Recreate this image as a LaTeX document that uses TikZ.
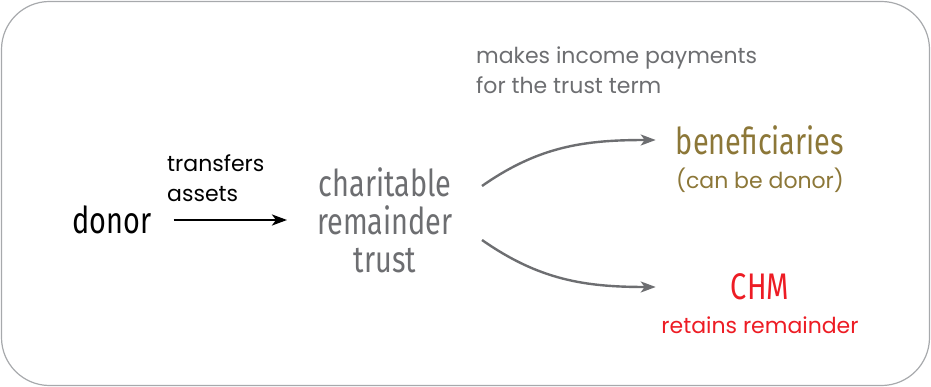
\documentclass[tikz,border=0pt]{standalone}
\usepackage{fontspec}
\usepackage{tikz}
\usetikzlibrary{positioning,arrows.meta}
\newfontfamily\headfont[FakeStretch=0.78]{Fira Sans}
\newfontfamily\notefont{Poppins}
\definecolor{textgray}{HTML}{6D6E71}
\definecolor{olive}{HTML}{8C7738}
\definecolor{chmred}{HTML}{ED1C24}
\definecolor{framegray}{HTML}{A7A9AC}

\begin{document}
\begin{tikzpicture}[x=1pt,y=-1pt,
	head/.style={font=\headfont\fontsize{37}{38}\selectfont, inner sep=2pt},
	note/.style={font=\notefont\fontsize{22}{30}\selectfont, inner sep=2pt},
	flow/.style={-{Stealth[length=15pt,width=11pt,inset=4pt]}, line width=2.4pt, textgray}]
	\draw[framegray, line width=1.2pt, rounded corners=48pt] (1.5,1.5) rectangle (929.5,385.5);
	\useasboundingbox (0,0) rectangle (931,387);

	\node[head] (donor) at (112,220) {donor};
	\node[note, align=left, anchor=south west] (transfers) at (165,204) {transfers\\assets};
	\node[head, textgray, align=center] (crt) at (385,220) {charitable\\remainder\\trust};
	\node[note, textgray, align=left, anchor=west] (payments) at (474,70) {makes income payments\\for the trust term};
	\node[head, olive] (benef) at (760,140) {beneficiaries};
	\node[note, olive, anchor=base] (benefnote) at ([yshift=-34pt]benef.base) {(can be donor)};
	\node[head, chmred] (chm) at (760,287) {CHM};
	\node[note, chmred, anchor=base] (chmnote) at ([yshift=-34pt]chm.base) {retains remainder};

	\draw[flow, black] ([xshift=20pt]donor.east) -- ([xshift=-28pt]crt.west |- donor.east);
	\draw[flow] ([shift={(27,-34)}]crt.east) to[out=35,in=180] ([xshift=-18pt]benef.west);
	\draw[flow] ([shift={(27,20)}]crt.east) to[out=-35,in=180] ([xshift=-18pt]chm.west -| benef.west);
\end{tikzpicture}
\end{document}
